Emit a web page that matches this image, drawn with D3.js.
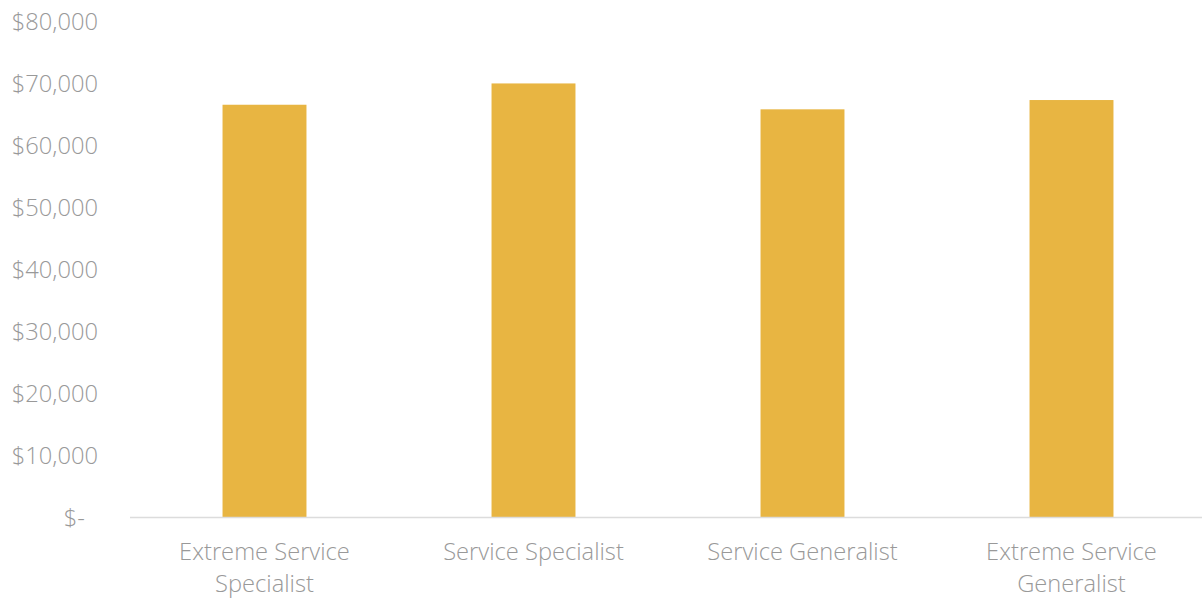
<!DOCTYPE html>
<html>
<head>
<meta charset="utf-8">
<script src="https://cdn.jsdelivr.net/npm/d3@7"></script>
<style>
  html, body { margin: 0; padding: 0; background: #fff; }
  svg { display: block; }
  text { font-family: "Open Sans", sans-serif; font-weight: 300; }
</style>
</head>
<body>
<svg id="chart" width="1202" height="599"></svg>
<script>
// Average salary by service profile
const categories = [
  ["Extreme Service", "Specialist"],
  ["Service Specialist"],
  ["Service Generalist"],
  ["Extreme Service", "Generalist"]
];
const salaries = [66560, 70000, 65820, 67320];
const yTicks = [0, 10000, 20000, 30000, 40000, 50000, 60000, 70000, 80000];

const svg = d3.select("#chart");
const W = 1202, H = 599;
const plotLeft = 130, plotRight = 1206, plotTop = 21.5, plotBottom = 517;
const textColor = "#999999";
const barColor = "#E8B542";
const fontSize = "23.7px";

const keys = categories.map(c => c.join(" "));
const x = d3.scaleBand()
  .domain(keys)
  .range([plotLeft, plotRight])
  .paddingInner(0.688)
  .paddingOuter(0.344);

const y = d3.scaleLinear().domain([0, 80000]).range([plotBottom, plotTop]);

// Bars
svg.append("g")
  .selectAll("rect")
  .data(salaries)
  .join("rect")
  .attr("x", (d, i) => x(keys[i]))
  .attr("width", x.bandwidth())
  .attr("y", d => y(d))
  .attr("height", d => y(0) - y(d))
  .attr("fill", barColor);

// Baseline
svg.append("line")
  .attr("x1", plotLeft).attr("x2", W)
  .attr("y1", y(0) + 0.5).attr("y2", y(0) + 0.5)
  .attr("stroke", "#dcdcdc")
  .attr("stroke-width", 1.5);

// Y axis labels (accounting style)
const fmt = d3.format(",");
const yAxis = d3.axisLeft(y)
  .tickValues(yTicks)
  .tickSize(0)
  .tickPadding(32)
  .tickFormat(d => d === 0 ? "$-" : "$" + fmt(d));

const gy = svg.append("g")
  .attr("transform", `translate(${plotLeft},0)`)
  .call(yAxis);
gy.select(".domain").remove();
gy.selectAll("text")
  .attr("fill", textColor)
  .style("font-size", fontSize)
  .style("font-family", "'Open Sans', sans-serif")
  .style("font-weight", 300)
  .attr("dy", "0.35em")
  .filter(d => d === 0)
  .attr("dx", -13);

// Category labels
const gx = svg.append("g");
categories.forEach((lines, i) => {
  const cx = x(keys[i]) + x.bandwidth() / 2;
  const t = gx.append("text")
    .attr("x", cx)
    .attr("y", 560)
    .attr("text-anchor", "middle")
    .attr("fill", textColor)
    .style("font-size", fontSize);
  lines.forEach((ln, j) => {
    t.append("tspan")
      .attr("x", cx)
      .attr("dy", j === 0 ? 0 : 32)
      .text(ln);
  });
});
</script>
</body>
</html>
